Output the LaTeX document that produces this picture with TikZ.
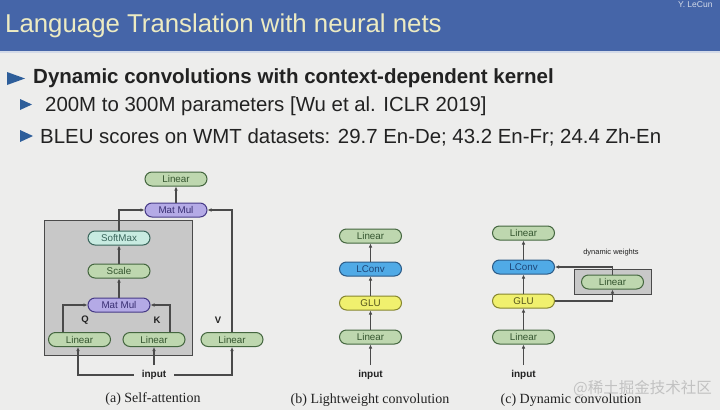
\documentclass[tikz,border=0pt]{standalone}
\usepackage{fontspec}
\setmainfont{Liberation Sans}
\newfontfamily\capserif{Liberation Serif}
\newfontfamily\cjk{Noto Sans CJK SC}
\usetikzlibrary{arrows.meta}
\definecolor{slidebg}{HTML}{EDEDEC}
\definecolor{hdr}{HTML}{4565A8}
\definecolor{hstrip}{HTML}{D3DAE8}
\definecolor{titlecol}{HTML}{EDEBC2}
\definecolor{bulletcol}{HTML}{2E5E9A}
\definecolor{bodytext}{HTML}{222222}
\definecolor{gfill}{HTML}{BED7AF}
\definecolor{gdraw}{HTML}{44663F}
\definecolor{gtext}{HTML}{34552F}
\definecolor{pfill}{HTML}{B4AAE6}
\definecolor{pdraw}{HTML}{463A86}
\definecolor{ptext}{HTML}{382E72}
\definecolor{cfill}{HTML}{C8EBE1}
\definecolor{cdraw}{HTML}{3A665C}
\definecolor{lfill}{HTML}{50AAE6}
\definecolor{ldraw}{HTML}{2A5A86}
\definecolor{ltext}{HTML}{1E4678}
\definecolor{yfill}{HTML}{F0F06E}
\definecolor{ydraw}{HTML}{85852E}
\definecolor{ytext}{HTML}{55551C}
\definecolor{areafill}{HTML}{C8C8C8}
\definecolor{areadraw}{HTML}{4A4A4A}
\definecolor{linecol}{HTML}{4A4A4A}
\definecolor{wmark}{HTML}{C2C2C2}
\tikzset{
  pill/.style={rounded corners=7pt, minimum width=62pt, minimum height=14pt, inner sep=0pt, line width=1pt, font=\fontsize{9.8}{10}\selectfont},
  gbox/.style={pill, fill=gfill, draw=gdraw, text=gtext},
  pbox/.style={pill, fill=pfill, draw=pdraw, text=ptext},
  cbox/.style={pill, fill=cfill, draw=cdraw, text=cdraw},
  lbox/.style={pill, fill=lfill, draw=ldraw, text=ltext},
  ybox/.style={pill, fill=yfill, draw=ydraw, text=ytext},
  area/.style={fill=areafill, draw=areadraw, line width=1pt, inner sep=0pt},
  inlabel/.style={font=\bfseries\fontsize{10}{12}\selectfont, text=bodytext, inner xsep=8pt, inner ysep=5pt},
  qkv/.style={font=\bfseries\fontsize{9.5}{10}\selectfont, text=bodytext},
  arr/.style={draw=linecol, line width=1.1pt, -{Latex[length=4pt,width=3.6pt]}},
  caption/.style={font=\capserif\fontsize{14}{16}\selectfont, text=bodytext},
  bullettri/.style={fill=bulletcol},
}
\begin{document}
\begin{tikzpicture}[x=1pt,y=-1pt]
\useasboundingbox (0,0) rectangle (720,410);
\fill[slidebg] (0,0) rectangle (720,410);
\fill[hdr] (0,0) rectangle (720,51);
\fill[hstrip] (0,51) rectangle (720,53);
\node[anchor=base west, inner sep=0pt, text=titlecol, font=\fontsize{25.8}{30}\selectfont] (title) at (5,32) {Language Translation with neural nets};
\node[anchor=base west, inner sep=0pt, text=hstrip, font=\fontsize{8.5}{9}\selectfont] (author) at (678,7.5) {Y. LeCun};
% bullets
\fill[bullettri] (7,72) -- (7,85) -- (25,78.5) -- cycle;
\node[anchor=base west, inner sep=0pt, text=bodytext, font=\bfseries\fontsize{20.5}{24}\selectfont] (b1) at (33,83) {Dynamic convolutions with context-dependent kernel};
\fill[bullettri] (20,99) -- (20,110) -- (32,104.5) -- cycle;
\node[anchor=base west, inner sep=0pt, text=bodytext, font=\fontsize{20.4}{24}\selectfont] (b2) at (45,111) {200M to 300M parameters [Wu et al. ICLR 2019]};
\fill[bullettri] (20,130) -- (20,142) -- (33,136) -- cycle;
\node[anchor=base west, inner sep=0pt, text=bodytext, font=\fontsize{20.4}{24}\selectfont] (b3) at (40,143) {BLEU scores on WMT datasets: 29.7 En-De; 43.2 En-Fr; 24.4 Zh-En};
% (a) self-attention
\node[area, minimum width=148pt, minimum height=135pt] (aBox) at (118,287.5) {};
\node[gbox] (aLin) at (176,179) {Linear};
\node[pbox] (aMM) at (176,210) {Mat Mul};
\node[cbox] (aSM) at (119,238) {SoftMax};
\node[gbox] (aSc) at (119,271) {Scale};
\node[pbox] (aMM2) at (119,305) {Mat Mul};
\node[gbox] (aQ) at (79.5,339.5) {Linear};
\node[gbox] (aK) at (154,339.5) {Linear};
\node[gbox] (aV) at (232,339.5) {Linear};
\node[inlabel] (aIn) at (154,375) {input};
\node[qkv] (lQ) at (85,320) {Q};
\node[qkv] (lK) at (157,320) {K};
\node[qkv] (lV) at (218,320) {V};
\draw[arr] (aMM) -- (aLin);
\draw[arr] (aMM2) -- (aSc);
\draw[arr] (aSc) -- (aSM);
\draw[arr] (aSM.north) |- (aMM.west);
\draw[arr] (aV.north) |- (aMM.east);
\draw[arr] ([xshift=-16.5pt]aQ.north) |- (aMM2.west);
\draw[arr] ([xshift=16pt]aK.north) |- (aMM2.east);
\draw[arr] (aIn.west) -| ([xshift=-1.5pt]aQ.south);
\draw[arr] (aIn.north) -- (aK.south);
\draw[arr] (aIn.east) -| (aV.south);
\node[caption] (capA) at (153,399) {(a) Self-attention};
% (b) lightweight
\node[gbox] (bL2) at (370.5,236) {Linear};
\node[lbox] (bLC) at (370.5,269) {LConv};
\node[ybox] (bG) at (370.5,303) {GLU};
\node[gbox] (bL1) at (370.5,337) {Linear};
\node[inlabel] (bIn) at (370.5,375) {input};
\draw[arr] (bIn) -- (bL1);
\draw[arr] (bL1) -- (bG);
\draw[arr] (bG) -- (bLC);
\draw[arr] (bLC) -- (bL2);
\node[caption] (capB) at (370,400) {(b) Lightweight convolution};
% (c) dynamic
\node[area, minimum width=77pt, minimum height=25pt] (cBox) at (612.5,281.5) {};
\node[gbox] (cL2) at (523.5,233) {Linear};
\node[lbox] (cLC) at (523.5,267) {LConv};
\node[ybox] (cG) at (523.5,301) {GLU};
\node[gbox] (cL1) at (523.5,337) {Linear};
\node[gbox] (cLd) at (612.5,282) {Linear};
\node[inlabel] (cIn) at (523.5,375) {input};
\node[font=\fontsize{7.5}{8}\selectfont, text=bodytext] (dw) at (611,253) {dynamic weights};
\draw[arr] (cIn) -- (cL1);
\draw[arr] (cL1) -- (cG);
\draw[arr] (cG) -- (cLC);
\draw[arr] (cLC) -- (cL2);
\draw[arr] (cG.east) -| (cLd.south);
\draw[arr] (cLd.north) |- (cLC.east);
\node[caption] (capC) at (571,400) {(c) Dynamic convolution};
\node[font=\cjk\fontsize{15.5}{17}\selectfont, text=wmark, anchor=west, inner sep=0pt] (wm) at (573,388) {@稀土掘金技术社区};
\end{tikzpicture}
\end{document}
